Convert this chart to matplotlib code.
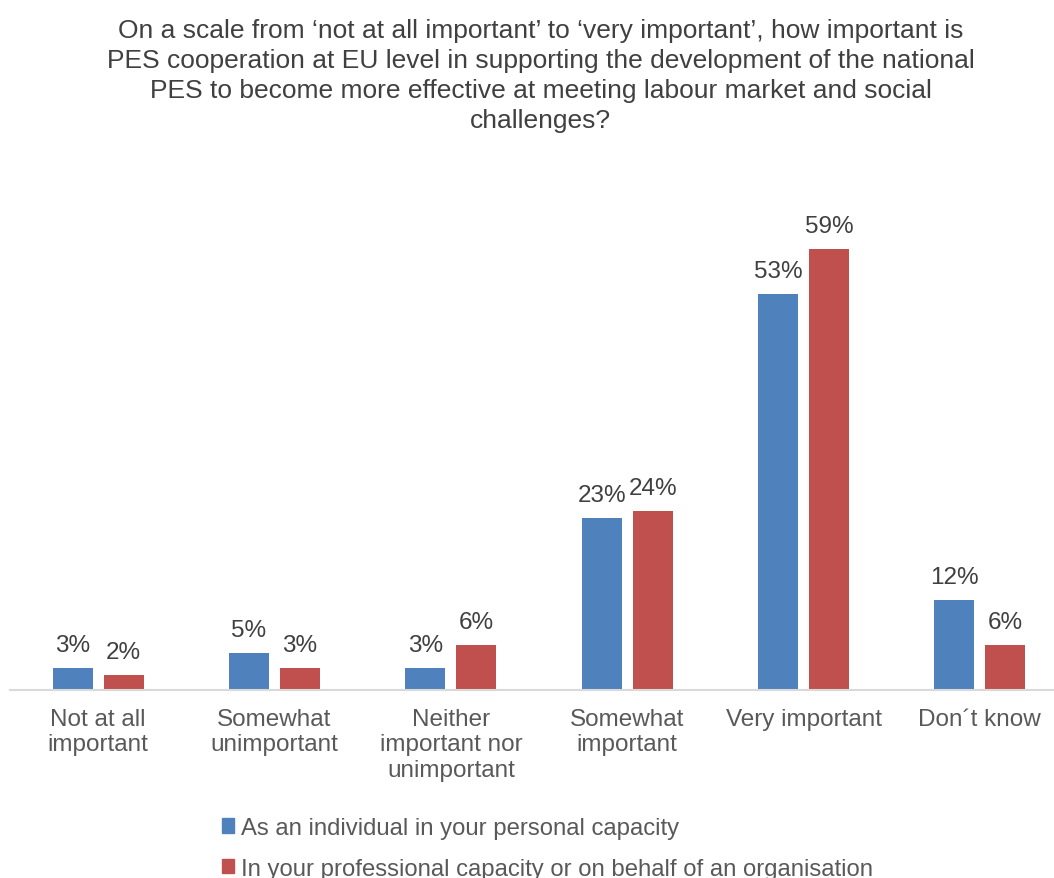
import numpy as np
import matplotlib.pyplot as plt
from matplotlib.patches import Patch

plt.rcParams['font.family'] = ['Liberation Sans', 'DejaVu Sans']

# Survey answers (share of respondents, %)
categories = ['Not at all\nimportant', 'Somewhat\nunimportant', 'Neither\nimportant nor\nunimportant',
              'Somewhat\nimportant', 'Very important', 'Don\u00b4t know']
individual = [3, 5, 3, 23, 53, 12]
organisation = [2, 3, 6, 24, 59, 6]
series_names = ['As an individual in your personal capacity',
                'In your professional capacity or on behalf of an organisation']

blue = '#4f81bd'
red = '#c0504d'

fig = plt.figure(figsize=(10.54, 8.79), dpi=100)
ax = fig.add_axes([10 / 1054, 1 - 691 / 879, 1058 / 1054, (691 - 205) / 879])

x = np.arange(len(categories))
w = 0.227
gap = 0.062
b1 = ax.bar(x - (w + gap) / 2, individual, w, color=blue)
b2 = ax.bar(x + (w + gap) / 2, organisation, w, color=red)

for bars, vals in [(b1, individual), (b2, organisation)]:
    for bar, v in zip(bars, vals):
        ax.text(bar.get_x() + bar.get_width() / 2, v + 1.6, f'{v}%',
                ha='center', va='bottom', fontsize=17.5, color='#404040')

ax.set_xlim(-0.5, len(categories) - 0.5)
ax.set_ylim(0, 65)
ax.set_yticks([])
ax.set_xticks(x)
ax.set_xticklabels(categories, fontsize=17.5, color='#595959', linespacing=1.2)
ax.tick_params(axis='x', length=0, pad=13)
for s in ['top', 'right', 'left']:
    ax.spines[s].set_visible(False)
ax.spines['bottom'].set_color('#d9d9d9')
ax.spines['bottom'].set_linewidth(1.5)

fig.text(0.513, 1 - 19 / 879,
         'On a scale from \u2018not at all important\u2019 to \u2018very important\u2019, how important is\n'
         'PES cooperation at EU level in supporting the development of the national\n'
         'PES to become more effective at meeting labour market and social\n'
         'challenges?',
         ha='center', va='top', fontsize=19, color='#404040', linespacing=1.31)

handles = [Patch(color=blue), Patch(color=red)]
fig.legend(handles, series_names, loc='upper left', bbox_to_anchor=(0.19, 0.094),
           ncol=1, frameon=False, fontsize=17.2, labelcolor='#595959',
           handlelength=0.5, handleheight=0.55, handletextpad=0.3, labelspacing=0.78)

fig.savefig('out.png', dpi=100)
